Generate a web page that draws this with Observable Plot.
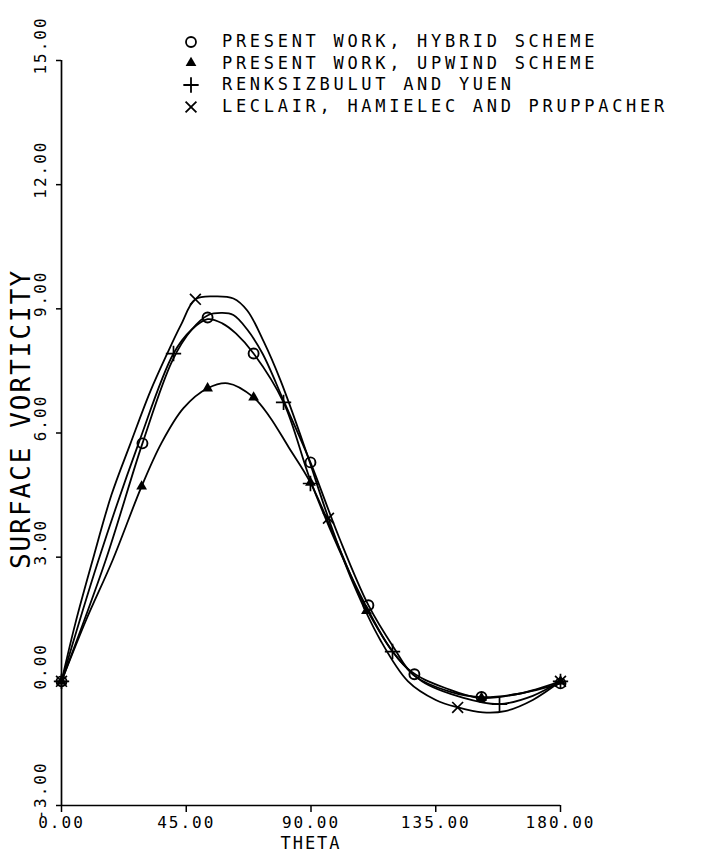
<!DOCTYPE html>
<html><head><meta charset="utf-8">
<script src="https://cdn.jsdelivr.net/npm/d3@7"></script>
<script src="https://cdn.jsdelivr.net/npm/@observablehq/plot@0.6"></script>
<style>
html,body{margin:0;padding:0;background:#fff;}
#chart{position:relative;width:710px;height:857px;}
#chart svg text{letter-spacing:2px;}
#legend{position:absolute;left:180px;top:31px;font-family:'DejaVu Sans Mono',monospace;font-size:17px;letter-spacing:3.7px;color:#000;}
.row{height:21.6px;line-height:21.6px;display:flex;align-items:center;white-space:nowrap;}
.row svg{width:22px;height:22px;margin-right:20px;flex:none;}
</style></head>
<body>
<div id="chart"><div id="legend"></div></div>
<script>
// ---- data ----
const xTicks = [0, 45, 90, 135, 180];
const yTicks = [-3, 0, 3, 6, 9, 12, 15];
const xLabel = "THETA";
const yLabel = "SURFACE VORTICITY";

const seriesNames = [
  "PRESENT WORK, HYBRID SCHEME",
  "PRESENT WORK, UPWIND SCHEME",
  "RENKSIZBULUT AND YUEN",
  "LECLAIR, HAMIELEC AND PRUPPACHER"
];

// smooth curves (traced)
const hybridCurveTheta = [0, 15.9, 29.2, 40, 47, 53, 58, 62, 67, 72.5, 80, 89.8, 100, 110.7, 120, 127, 140, 151, 165, 180];
const hybridCurveValue = [0, 2.92, 5.75, 7.75, 8.5, 8.85, 8.9, 8.85, 8.5, 7.92, 6.8, 5.29, 3.5, 1.84, 0.8, 0.15, -0.25, -0.38, -0.3, -0.05];

const upwindCurveTheta = [0, 9, 18.4, 28.9, 36, 44, 52.7, 60, 69.3, 75, 82, 89.8, 100, 110, 125, 140, 151, 165, 180];
const upwindCurveValue = [0, 1.5, 2.92, 4.71, 5.75, 6.6, 7.08, 7.2, 6.86, 6.4, 5.65, 4.8, 3.25, 1.75, 0.3, -0.2, -0.4, -0.3, 0];

const renkCurveTheta = [0, 13.3, 27.8, 40.4, 47, 52.7, 58, 63, 69.3, 80.1, 89.8, 100, 110, 119.4, 130, 145, 158, 170, 180];
const renkCurveValue = [0, 2.92, 5.75, 7.92, 8.5, 8.75, 8.65, 8.4, 7.92, 6.74, 4.85, 3.2, 1.8, 0.72, 0.0, -0.4, -0.55, -0.35, 0];

const leclairCurveTheta = [0, 5, 11.2, 18, 24.9, 32, 38, 43, 48.3, 55, 62, 67, 73, 79, 88, 96.3, 105, 115, 125, 135, 143, 152, 160, 170, 180];
const leclairCurveValue = [0, 1.4, 2.92, 4.5, 5.75, 7.0, 7.9, 8.6, 9.23, 9.3, 9.25, 8.96, 8.2, 7.27, 5.6, 3.94, 2.4, 1.0, 0.0, -0.45, -0.63, -0.75, -0.72, -0.45, 0];

// marked points
const hybridTheta = [0, 29.2, 52.7, 69.3, 89.8, 110.7, 127.3, 151.5, 180];
const hybridValue = [0, 5.75, 8.79, 7.92, 5.29, 1.84, 0.17, -0.38, -0.05];
const upwindTheta = [0, 28.9, 52.7, 69.3, 89.8, 110, 151.5, 180];
const upwindValue = [0, 4.71, 7.08, 6.86, 4.8, 1.7, -0.4, 0];
const renkTheta = [0, 40.4, 80.1, 89.8, 119.4, 158, 180];
const renkValue = [0, 7.92, 6.74, 4.78, 0.72, -0.55, 0];
const leclairTheta = [0, 48.3, 96.3, 142.9, 180];
const leclairValue = [0, 9.23, 3.94, -0.63, 0];

// ---- build tables ----
const zip = (name, t, v) => t.map((d, i) => ({series: name, theta: d, value: v[i]}));
const curves = [
  ...zip(seriesNames[0], hybridCurveTheta, hybridCurveValue),
  ...zip(seriesNames[1], upwindCurveTheta, upwindCurveValue),
  ...zip(seriesNames[2], renkCurveTheta, renkCurveValue),
  ...zip(seriesNames[3], leclairCurveTheta, leclairCurveValue)
];
const ptsHybrid = zip(seriesNames[0], hybridTheta, hybridValue);
const ptsUpwind = zip(seriesNames[1], upwindTheta, upwindValue);
const ptsRenk = zip(seriesNames[2], renkTheta, renkValue);
const ptsLeclair = zip(seriesNames[3], leclairTheta, leclairValue);

const font = "'DejaVu Sans Mono', monospace";
const plot = Plot.plot({
  width: 710, height: 857,
  marginLeft: 61, marginRight: 150, marginTop: 60, marginBottom: 52,
  x: {domain: [xTicks[0], xTicks[xTicks.length - 1]]},
  y: {domain: [yTicks[0], yTicks[yTicks.length - 1]]},
  style: {fontFamily: font, background: "#fff", color: "#000", overflow: "visible"},
  marks: [
    Plot.axisX({ticks: xTicks, tickSize: 7, tickFormat: () => "", label: null, strokeWidth: 1.5}),
    Plot.axisY({ticks: yTicks, tickSize: 5, tickFormat: () => "", label: null, strokeWidth: 1.5}),
    Plot.ruleX([xTicks[0]], {strokeWidth: 1.7}),
    Plot.ruleY([yTicks[0]], {strokeWidth: 1.7}),
    Plot.text(xTicks, {x: d => d, frameAnchor: "bottom", dy: 22, textAnchor: "middle", text: d => d.toFixed(2), fontSize: 16, fill: "black"}),
    Plot.text(yTicks, {y: d => d, frameAnchor: "left", dx: -21, dy: -15, textAnchor: "middle", rotate: -90, text: d => d.toFixed(2), fontSize: 16, fill: "black"}),
    Plot.text([xLabel], {frameAnchor: "bottom", dy: 43, textAnchor: "middle", text: d => d, fontSize: 17, fill: "black"}),
    Plot.text([yLabel], {frameAnchor: "left", dx: -40, dy: -14, textAnchor: "middle", rotate: -90, text: d => d, fontSize: 26, fill: "black"}),
    Plot.line(curves, {x: "theta", y: "value", z: "series", curve: "catmull-rom", stroke: "black", strokeWidth: 1.8}),
    Plot.dot(ptsHybrid, {x: "theta", y: "value", symbol: "circle", r: 5, stroke: "black", fill: "none", strokeWidth: 1.9}),
    Plot.dot(ptsUpwind, {x: "theta", y: "value", symbol: "triangle", r: 4, fill: "black", stroke: "none"}),
    Plot.dot(ptsRenk, {x: "theta", y: "value", symbol: "plus", r: 5, stroke: "black", fill: "none", strokeWidth: 1.7}),
    Plot.dot(ptsLeclair, {x: "theta", y: "value", symbol: "times", r: 5, stroke: "black", fill: "none", strokeWidth: 1.7})
  ]
});
document.getElementById("chart").prepend(plot);

// ---- legend ----
const legendSymbols = [
  {type: d3.symbolCircle, r: 5, fill: "none", stroke: "black"},
  {type: d3.symbolTriangle, r: 4, fill: "black", stroke: "none"},
  {type: d3.symbolPlus, r: 5, fill: "none", stroke: "black"},
  {type: d3.symbolTimes, r: 5, fill: "none", stroke: "black"}
];
const legend = d3.select("#legend");
seriesNames.forEach((name, i) => {
  const s = legendSymbols[i];
  const row = legend.append("div").attr("class", "row");
  const svg = row.append("svg").attr("viewBox", "-11 -11 22 22");
  svg.append("path")
    .attr("d", d3.symbol(s.type, Math.PI * s.r * s.r)())
    .attr("fill", s.fill).attr("stroke", s.stroke).attr("stroke-width", 1.8);
  row.append("span").text(name);
});
</script>
</body></html>
